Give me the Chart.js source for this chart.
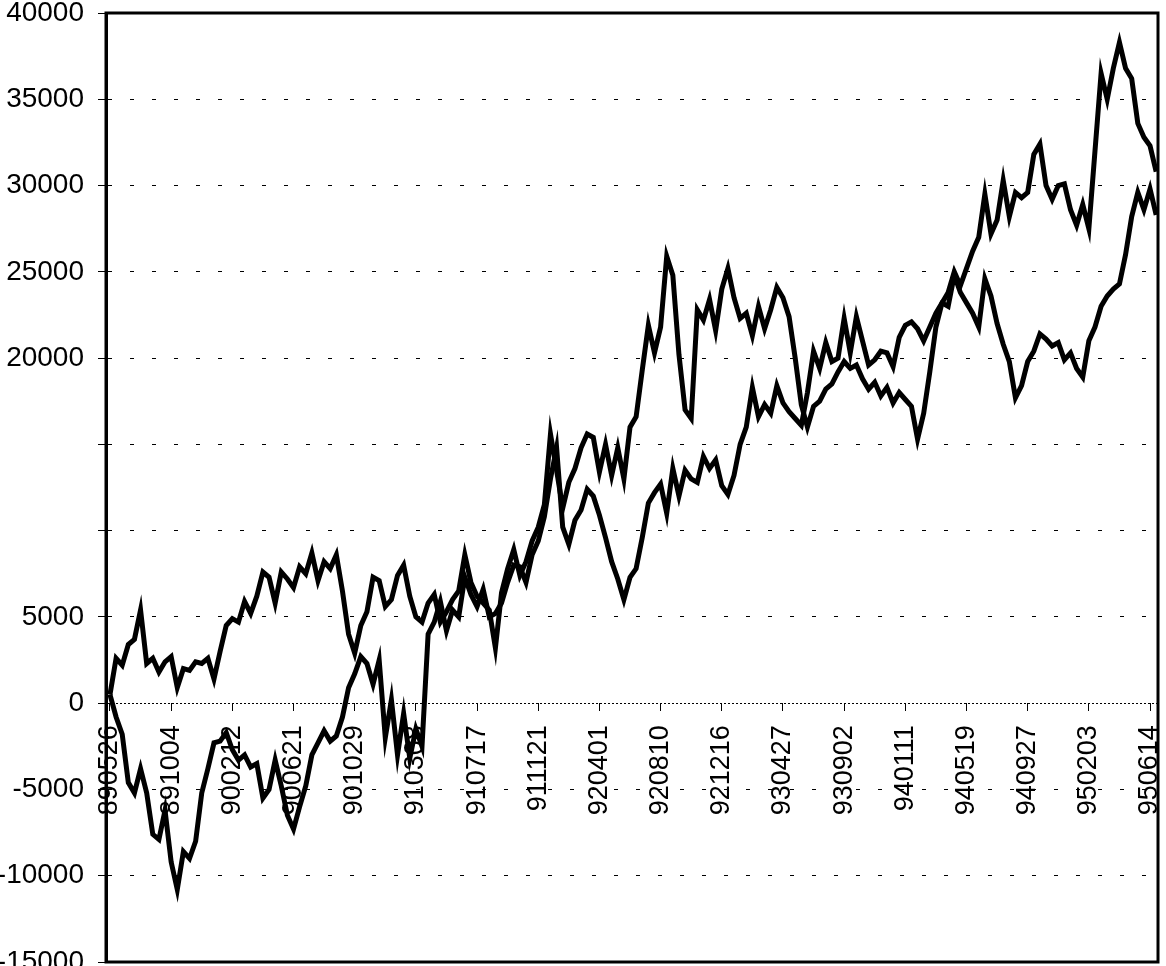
<!DOCTYPE html>
<html>
<head>
<meta charset="utf-8">
<script src="https://cdn.jsdelivr.net/npm/chart.js@4/dist/chart.umd.min.js"></script>
<style>
  html, body { margin: 0; padding: 0; background: #fff; }
  #wrap { width: 1166px; height: 966px; position: relative; }
</style>
</head>
<body>
<div id="wrap"><canvas id="equityChart"></canvas></div>
<script>
// date labels shown under the zero line, one every 10 points
const tickLabels = ['890526', '891004', '900212', '900621', '901029', '910308', '910717', '911121', '920401',
    '920810', '921216', '930427', '930902', '940111', '940519', '940927', '950203', '950614'];
const pointsPerTick = 10;

// y axis ticks (15000 and 10000 carry no label in the original)
const yTicks = [-15000, -10000, -5000, 0, 5000, 10000, 15000, 20000, 25000, 30000, 35000, 40000];
const hiddenYLabels = [10000, 15000];

// cumulative result
const seriesA = [
    500, 2600, 2200, 3400, 3700, 5400, 2300, 2600, 1800, 2400,
    2700, 900, 2000, 1900, 2400, 2300, 2600, 1400, 3000, 4500,
    4900, 4700, 5900, 5200, 6200, 7600, 7300, 5800, 7600, 7200,
    6700, 7900, 7500, 8700, 7100, 8200, 7800, 8600, 6500, 4000,
    2900, 4500, 5300, 7300, 7100, 5600, 6000, 7400, 8000, 6200,
    5000, 4700, 5800, 6300, 4700, 5300, 6000, 6500, 8600, 7000,
    6200, 5800, 5400, 3200, 6400, 7800, 8900, 7400, 8200, 9400,
    10200, 11500, 15600, 13500, 11300, 12800, 13600, 14800, 15600, 15400,
    13400, 15000, 13200, 14800, 13000, 16000, 16600, 19300, 21900, 20300,
    21800, 25900, 24800, 20200, 17000, 16500, 22800, 22200, 23400, 21600,
    24000, 25200, 23500, 22300, 22600, 21300, 23000, 21700, 22800, 24100,
    23500, 22400, 20000, 17300, 16000, 17200, 17500, 18200, 18500, 19200,
    19800, 19400, 19600, 18800, 18200, 18600, 17800, 18300, 17400, 18000,
    17600, 17200, 15300, 16800, 19200, 21800, 23200, 23800, 25000, 24200,
    25200, 26200, 27000, 29500, 27200, 28000, 30300, 28200, 29600, 29300,
    29600, 31800, 32400, 30000, 29200, 30000, 30100, 28600, 27700, 28900,
    27500, 32000, 36500, 35000, 36800, 38300, 36800, 36200, 33600, 32800,
    32300, 30800
];
const seriesB = [
    500, -800, -1800, -4600, -5200, -3800, -5200, -7600, -7900, -6200,
    -9200, -10800, -8600, -9000, -8000, -5200, -3800, -2300, -2200, -1700,
    -2700, -3300, -3000, -3700, -3500, -5500, -5000, -3300, -4800, -6500,
    -7300, -6000, -4800, -3000, -2300, -1600, -2200, -1900, -800, 900,
    1700, 2700, 2300, 1100, 2500, -2000, 200, -3000, -600, -3200,
    -1500, -2500, 4000, 4700, 5900, 4200, 5400, 5000, 7300, 6300,
    5600, 6600, 5000, 5200, 5800, 7000, 8000, 7900, 7000, 8600,
    9400, 10800, 13000, 14800, 10200, 9200, 10600, 11200, 12400, 12000,
    10900, 9600, 8200, 7200, 6000, 7300, 7800, 9600, 11600, 12200,
    12700, 11000, 13600, 12000, 13500, 13000, 12800, 14300, 13600, 14100,
    12600, 12100, 13200, 15000, 16000, 18300, 16600, 17300, 16800, 18400,
    17400, 16900, 16500, 16100, 18000, 20400, 19400, 20900, 19800, 20000,
    22300, 20300, 22400, 21000, 19600, 19900, 20400, 20300, 19500, 21200,
    21900, 22100, 21700, 21000, 21800, 22600, 23200, 23000, 24800, 23800,
    23200, 22600, 21800, 24600, 23600, 22000, 20800, 19800, 17700, 18400,
    19800, 20400, 21400, 21100, 20700, 20900, 19900, 20300, 19400, 18900,
    21000, 21800, 23000, 23600, 24000, 24300, 26000, 28200, 29600, 28600,
    29800, 28300
];

function toPoints(values) {
    return values.map((v, i) => ({ x: i, y: v }));
}

// thick frame round the plot area
const framePlugin = {
    id: 'frame',
    afterDatasetsDraw(chart) {
        const { ctx, chartArea } = chart;
        ctx.save();
        ctx.strokeStyle = '#000';
        ctx.lineWidth = 3;
        ctx.strokeRect(chartArea.left, chartArea.top, chartArea.right - chartArea.left, chartArea.bottom - chartArea.top);
        ctx.restore();
    }
};

Chart.defaults.font.family = '"Liberation Sans", Arial, sans-serif';
Chart.defaults.color = '#000';

var ctx = document.getElementById('equityChart').getContext('2d');
var equityChart = new Chart(ctx, {
    type: 'line',
    data: {
        datasets: [{
            label: 'Series A',
            data: toPoints(seriesA),
            borderColor: '#000',
            borderWidth: 5,
            pointRadius: 0,
            tension: 0
        }, {
            label: 'Series B',
            data: toPoints(seriesB),
            borderColor: '#000',
            borderWidth: 5,
            pointRadius: 0,
            tension: 0
        }]
    },
    options: {
        responsive: true,
        maintainAspectRatio: false,
        animation: false,
        layout: { padding: { top: 13, right: 8, bottom: 4, left: 0 } },
        plugins: {
            legend: { display: false },
            tooltip: { enabled: false }
        },
        scales: {
            x: {
                type: 'linear',
                position: { y: 0 },
                min: -0.65,
                max: (tickLabels.length - 1) * pointsPerTick + 1.3,
                grid: {
                    drawOnChartArea: false,
                    drawTicks: true,
                    tickLength: 8,
                    color: '#000'
                },
                border: { display: false },
                ticks: {
                    stepSize: pointsPerTick,
                    includeBounds: false,
                    autoSkip: false,
                    minRotation: 90,
                    maxRotation: 90,
                    padding: 14,
                    font: { size: 27 },
                    callback: function (value) {
                        if (value % pointsPerTick !== 0) return '';
                        return tickLabels[value / pointsPerTick] || '';
                    }
                },
                afterFit: function (scale) {
                    scale.height = 0;
                    scale.paddingLeft = 0;
                    scale.paddingRight = 0;
                }
            },
            y: {
                min: yTicks[0],
                max: yTicks[yTicks.length - 1],
                grid: {
                    color: '#000',
                    lineWidth: 1,
                    tickLength: 8
                },
                border: {
                    display: true,
                    width: 3,
                    color: '#000',
                    dash: function (c) {
                        return (c.tick && c.tick.value === 0) ? [2, 2] : [4, 18];
                    }
                },
                ticks: {
                    stepSize: 5000,
                    padding: 14,
                    font: { size: 28 },
                    callback: function (value) {
                        return hiddenYLabels.includes(value) ? '' : String(value);
                    }
                },
                afterFit: function (scale) {
                    scale.width = 106;
                    scale.paddingTop = 0;
                    scale.paddingBottom = 0;
                }
            }
        }
    },
    plugins: [framePlugin]
});
</script>
</body>
</html>
